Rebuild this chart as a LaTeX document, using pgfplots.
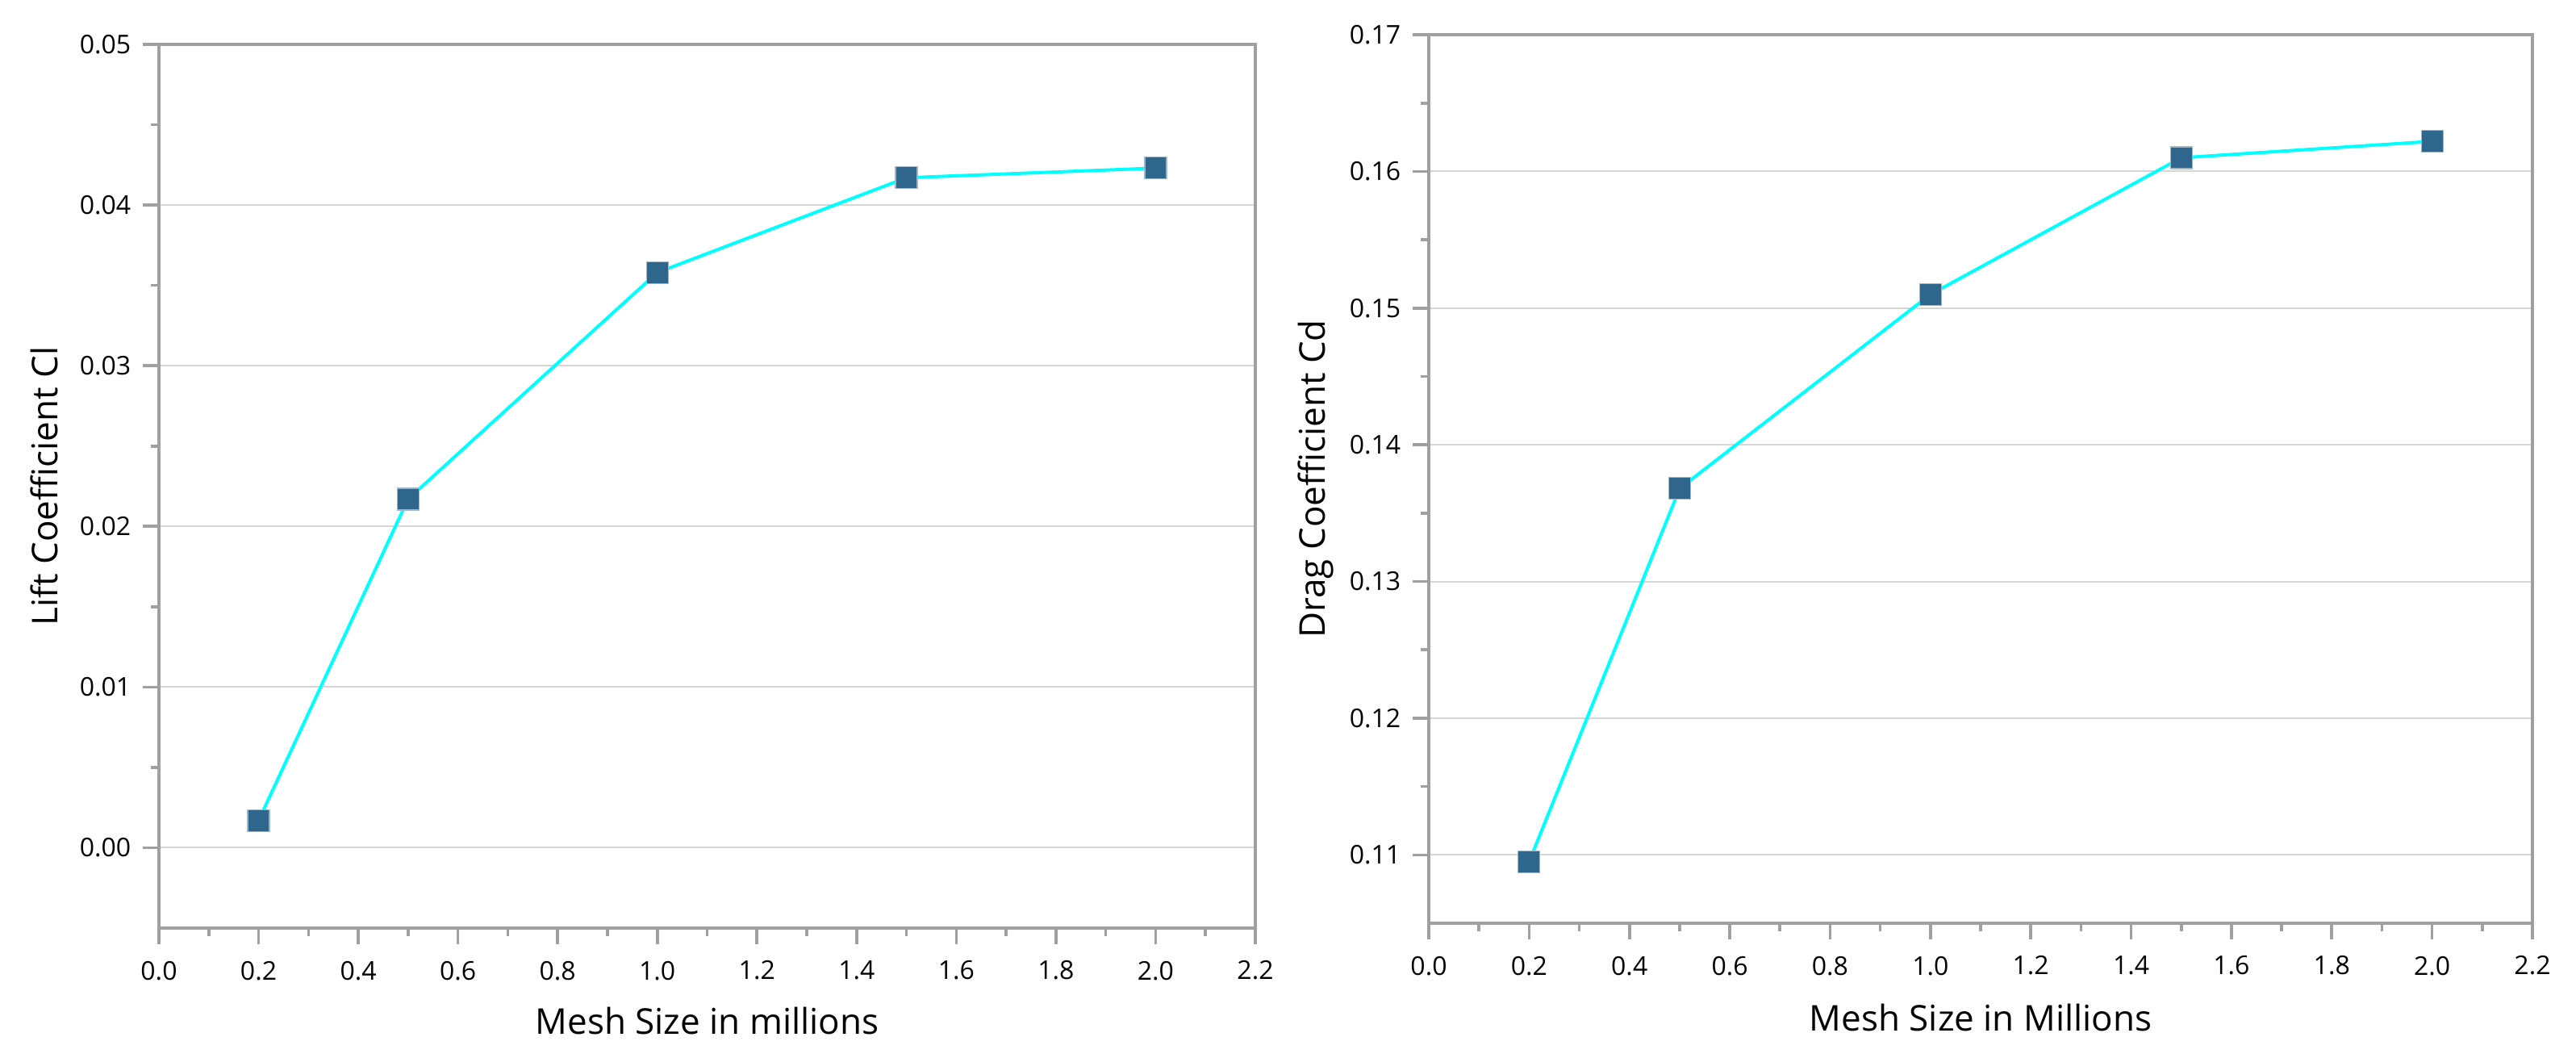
\documentclass[border=0pt]{standalone}
\usepackage{fontspec}
\setmainfont{Open Sans}
\usepackage{pgfplots}
\pgfplotsset{compat=1.18}
\definecolor{axgray}{HTML}{A0A0A0}
\definecolor{gridgray}{HTML}{D6D6D6}
\definecolor{linecyan}{HTML}{00FFFF}
\definecolor{markblue}{HTML}{2F668C}
\definecolor{markedge}{HTML}{9FB6C8}
\pgfplotsset{
  mystyle/.style={
    scale only axis,
    anchor=south west,
    scaled ticks=false,
    axis line style={axgray, line width=0.9pt},
    tick style={axgray, line width=0.9pt},
    major tick length=5pt,
    minor tick length=2.5pt,
    tick align=outside,
    xtick pos=bottom,
    ytick pos=left,
    minor x tick num=1,
    minor y tick num=1,
    ymajorgrids,
    major grid style={gridgray, line width=0.5pt},
    /pgf/number format/assume math mode=true,
    ticklabel style={font=\fontsize{8}{9.6}\selectfont, text=black},
    xticklabel style={/pgf/number format/fixed, /pgf/number format/fixed zerofill, /pgf/number format/precision=1, anchor=north, inner sep=0pt, yshift=-5pt},
    yticklabel style={/pgf/number format/fixed, /pgf/number format/fixed zerofill, /pgf/number format/precision=2, anchor=east, inner sep=0pt, xshift=-3.5pt},
    label style={font=\fontsize{11}{13.2}\selectfont, text=black},
    xmin=0, xmax=2.2,
    xtick={0,0.2,...,2.2},
  },
  myline/.style={
    linecyan, line width=1pt,
    mark=square*, mark size=3.375pt,
    mark options={fill=markblue, draw=markedge, line width=0.3pt},
  },
}
\begin{document}
\begin{tikzpicture}
\path[use as bounding box, fill=white] (0,0) rectangle (798.25pt,327.5pt);
\begin{axis}[mystyle,
  at={(49.25pt,40pt)},
  width=339.75pt, height=273.75pt,
  ymin=-0.005, ymax=0.05,
  ytick={0,0.01,0.02,0.03,0.04,0.05},
  xlabel={Mesh Size in millions},
  ylabel={Lift Coefficient Cl},
  xlabel style={at={(axis description cs:0.5,-0.105)}, anchor=center},
  ylabel style={at={(axis description cs:-0.1045,0.5)}, anchor=center},
]
\addplot[myline] coordinates {
  (0.2,0.0017) (0.5,0.0217) (1.0,0.0358) (1.5,0.0417) (2.0,0.0423)
};
\end{axis}
\begin{axis}[mystyle,
  at={(442.75pt,41.5pt)},
  width=342pt, height=275.25pt,
  ymin=0.105, ymax=0.17,
  ytick={0.11,0.12,0.13,0.14,0.15,0.16,0.17},
  xlabel={Mesh Size in Millions},
  ylabel={Drag Coefficient Cd},
  xlabel style={at={(axis description cs:0.5,-0.1063)}, anchor=center},
  ylabel style={at={(axis description cs:-0.1023,0.5)}, anchor=center},
]
\addplot[myline] coordinates {
  (0.2,0.1095) (0.5,0.1368) (1.0,0.1510) (1.5,0.1610) (2.0,0.1622)
};
\end{axis}
\end{tikzpicture}
\end{document}
